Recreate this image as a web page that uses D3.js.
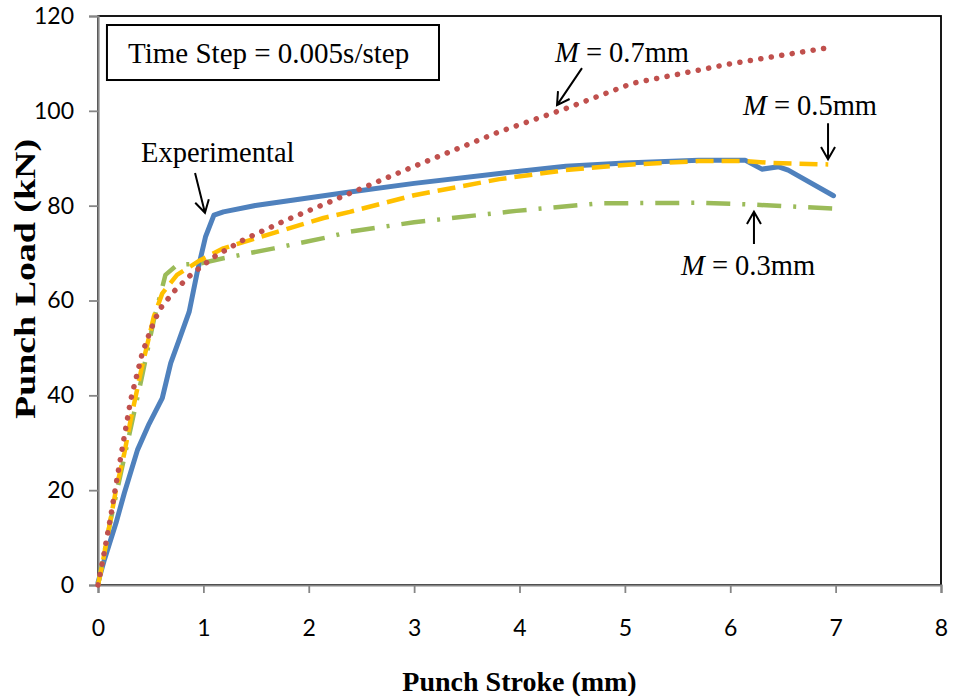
<!DOCTYPE html>
<html>
<head>
<meta charset="utf-8">
<script src="https://cdn.jsdelivr.net/npm/d3@7"></script>
<style>
  body { margin: 0; background: #fff; }
  svg { display: block; }
  .tick text { font-family: Lato, "Open Sans", sans-serif; font-size: 23px; fill: #000; }
  .serif { font-family: "Liberation Serif", "Times New Roman", serif; fill: #000; }
</style>
</head>
<body>
<div id="viz"></div>
<script>
/* data: punch stroke (mm) vs punch load (kN) */
var expX = [0, 0.06, 0.17, 0.25, 0.375, 0.485, 0.61, 0.69, 0.77, 0.865, 0.94, 1.02, 1.10, 1.19, 1.51, 2.39, 3.0, 3.81, 4.44, 5.0, 5.70, 6.14, 6.30, 6.46, 6.55, 6.98];
var expY = [0.5, 5.3, 13, 19.4, 28.5, 34, 39.4, 46.8, 51.7, 57.6, 65.8, 73.4, 78, 78.7, 80.1, 82.9, 84.7, 86.8, 88.3, 89.0, 89.6, 89.6, 87.7, 88.2, 87.5, 82.1];

var m3X = [0, 0.12, 0.28, 0.41, 0.53, 0.64, 0.75, 0.97, 1.19, 1.67, 2.17, 2.39, 3.0, 3.97, 4.76, 5.70, 6.14, 6.98];
var m3Y = [0, 13.7, 30, 43.2, 55.9, 65.4, 67.5, 67.8, 68.9, 71, 73.3, 74.5, 76.5, 78.9, 80.5, 80.6, 80.3, 79.4];

var m5X = [0, 0.04, 0.17, 0.25, 0.31, 0.41, 0.53, 0.61, 0.75, 0.97, 1.19, 1.45, 2.14, 2.39, 3.0, 3.81, 4.44, 5.0, 5.70, 6.14, 6.39, 6.93];
var m5Y = [0, 4.2, 20, 27.8, 34.8, 45.3, 56.6, 61.5, 65.4, 68.5, 71, 72.8, 77.4, 78.7, 82.2, 85.6, 87.5, 88.6, 89.4, 89.4, 89, 88.7];

var m7X = [0, 0.06, 0.12, 0.20, 0.31, 0.42, 0.50, 0.58, 0.72, 0.88, 1.10, 1.38, 1.79, 2.20, 2.39, 3.0, 3.81, 4.44, 5.07, 6.02, 6.98];
var m7Y = [0, 7, 14.4, 25, 39, 48.9, 53.8, 58, 61.9, 65.4, 69.2, 72.8, 77, 80.8, 82.6, 88.3, 95.6, 100.5, 105.8, 110, 113.5];

var xTicks = [0, 1, 2, 3, 4, 5, 6, 7, 8];
var yTicks = [0, 20, 40, 60, 80, 100, 120];

var xTitle = "Punch Stroke (mm)",
    yTitle = "Punch Load (kN)",
    boxText = "Time Step = 0.005s/step";

/***************** Layout *********************/
var W = 953, H = 696,
    plotL = 98, plotR = 941, plotT = 16, plotB = 585,
    axis_color = "#868686";

var svg = d3.select("#viz").append("svg")
    .attr("width", W)
    .attr("height", H);

var x = d3.scaleLinear().domain([0, 8]).range([plotL, plotR]);
var y = d3.scaleLinear().domain([0, 120]).range([plotB, plotT]);

/* plot frame */
svg.append("rect")
    .attr("x", plotL).attr("y", plotT)
    .attr("width", plotR - plotL).attr("height", plotB - plotT)
    .attr("fill", "none")
    .attr("stroke", "#000")
    .attr("stroke-width", 1.8);

/* axes */
var yAxis = svg.append("g")
    .attr("transform", "translate(" + plotL + ",0)")
    .call(d3.axisLeft(y).tickValues(yTicks).tickSize(9).tickPadding(15).tickFormat(d3.format("d")));
var xAxis = svg.append("g")
    .attr("transform", "translate(0," + plotB + ")")
    .call(d3.axisBottom(x).tickValues(xTicks).tickSize(8).tickPadding(27).tickFormat(d3.format("d")));

[xAxis, yAxis].forEach(function(g) {
  g.select(".domain").attr("stroke", axis_color).attr("stroke-width", 2.2);
  g.selectAll(".tick line").attr("stroke", axis_color).attr("stroke-width", 1.8);
  g.attr("font-family", null).attr("font-size", null);
});

/* axis titles */
svg.append("text")
    .attr("class", "serif")
    .attr("x", (plotL + plotR) / 2)
    .attr("y", 691)
    .attr("text-anchor", "middle")
    .style("font-size", "28px")
    .style("font-weight", "bold")
    .text(xTitle);

svg.append("text")
    .attr("class", "serif")
    .attr("transform", "translate(35,279) rotate(-90)")
    .attr("text-anchor", "middle")
    .attr("textLength", 280)
    .attr("lengthAdjust", "spacingAndGlyphs")
    .style("font-size", "30px")
    .style("font-weight", "bold")
    .text(yTitle);

/***************** Series *********************/
var series = [
  {xs: expX, ys: expY, color: "#4F81BD", dash: null, cap: "round", w: 5},
  {xs: m3X, ys: m3Y, color: "#9BBB59", dash: "24,12,3,12", cap: "butt", w: 4.5},
  {xs: m5X, ys: m5Y, color: "#FFC000", dash: "18,8", cap: "butt", w: 4.5},
  {xs: m7X, ys: m7Y, color: "#C0504D", dash: "0.1,10.5", cap: "round", w: 5.5}
];

var line = d3.line()
    .x(function(d) { return x(d[0]); })
    .y(function(d) { return y(d[1]); });

series.forEach(function(s) {
  var pts = s.xs.map(function(v, i) { return [v, s.ys[i]]; });
  svg.append("path")
      .datum(pts)
      .attr("d", line)
      .attr("fill", "none")
      .attr("stroke", s.color)
      .attr("stroke-width", s.w)
      .attr("stroke-linecap", s.cap)
      .attr("stroke-linejoin", "round")
      .attr("stroke-dasharray", s.dash);
});

/***************** Annotations *********************/
svg.append("rect")
    .attr("x", x(0.085)).attr("y", y(118.1))
    .attr("width", x(3.236) - x(0.085))
    .attr("height", y(106.5) - y(118.1))
    .attr("fill", "#fff")
    .attr("stroke", "#000")
    .attr("stroke-width", 2);

svg.append("text")
    .attr("class", "serif")
    .attr("x", x(0.285)).attr("y", y(110.1))
    .style("font-size", "29px")
    .text(boxText);

var labels = [
  {m: true, t: " = 0.7mm", tx: 4.337, ty: 110.3, a: [4.593, 109.0, 4.356, 101.2]},
  {m: true, t: " = 0.5mm", tx: 6.121, ty: 99.1, a: [6.928, 97.4, 6.928, 89.8]},
  {m: true, t: " = 0.3mm", tx: 5.533, ty: 65.4, a: [6.225, 71.9, 6.225, 78.7]},
  {m: false, t: "Experimental", tx: 0.408, ty: 89.2, a: [0.921, 86.9, 1.015, 78.5]}
];

labels.forEach(function(l) {
  var t = svg.append("text")
      .attr("class", "serif")
      .attr("x", x(l.tx)).attr("y", y(l.ty))
      .style("font-size", "28.5px");
  if (l.m) t.append("tspan").style("font-style", "italic").text("M");
  t.append("tspan").text(l.t);

  var x1 = x(l.a[0]), y1 = y(l.a[1]), x2 = x(l.a[2]), y2 = y(l.a[3]);
  var ang = Math.atan2(y2 - y1, x2 - x1), hl = 14, spread = Math.PI / 6;
  var p = d3.path();
  p.moveTo(x1, y1); p.lineTo(x2, y2);
  p.moveTo(x2 - hl * Math.cos(ang - spread), y2 - hl * Math.sin(ang - spread));
  p.lineTo(x2, y2);
  p.lineTo(x2 - hl * Math.cos(ang + spread), y2 - hl * Math.sin(ang + spread));
  svg.append("path")
      .attr("d", p.toString())
      .attr("fill", "none")
      .attr("stroke", "#000")
      .attr("stroke-width", 2);
});
</script>
</body>
</html>
